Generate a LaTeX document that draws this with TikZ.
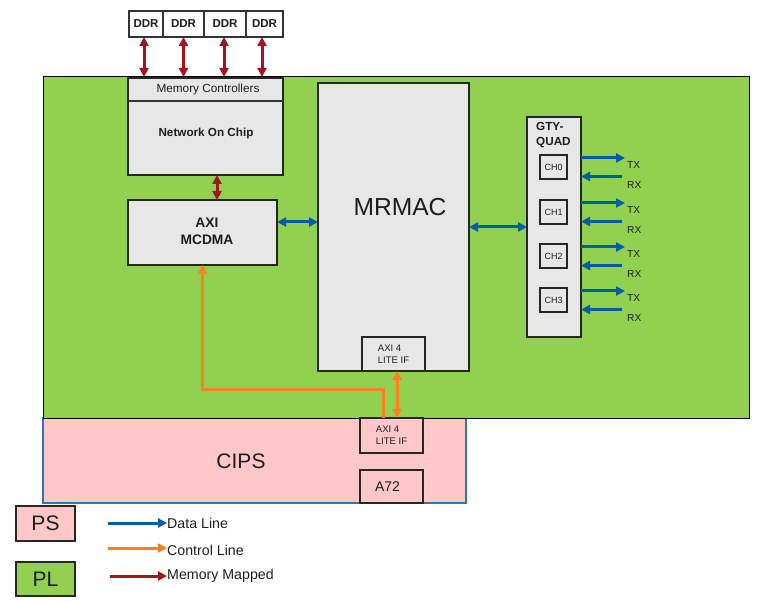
\documentclass[tikz,border=0pt]{standalone}
\usepackage{fontspec}
\setmainfont{Liberation Sans}
\usetikzlibrary{arrows.meta}
\definecolor{plgruen}{RGB}{146,208,80}
\definecolor{psrosa}{RGB}{255,199,199}
\definecolor{psrand}{RGB}{46,117,182}
\definecolor{kastengrau}{RGB}{231,231,231}
\definecolor{datenblau}{RGB}{0,94,166}
\definecolor{steuerorange}{RGB}{250,130,30}
\definecolor{mmrot}{RGB}{165,20,30}
\definecolor{schrift}{RGB}{30,30,30}
\tikzset{
    feld/.style={inner sep=0pt, outer sep=0pt, anchor=north west},
    kasten/.style={feld, draw=black!85, line width=1.5pt, fill=kastengrau},
    ddrkasten/.style={feld, draw=black!80, line width=1.2pt, fill=white, minimum height=26pt,
        font=\fontsize{11.5}{13}\selectfont\bfseries},
    chkasten/.style={feld, draw=black!85, line width=1.6pt, fill=kastengrau,
        minimum width=27pt, minimum height=24pt, font=\fontsize{9}{10}\selectfont},
    klein/.style={font=\fontsize{9.5}{12}\selectfont},
    fett/.style={font=\fontsize{11.7}{15}\selectfont\bfseries},
    gross/.style={font=\fontsize{21}{24}\selectfont},
    legende/.style={font=\fontsize{14.2}{16}\selectfont, anchor=west, inner sep=0pt},
    daten/.style={draw=datenblau, line width=3pt, >={Triangle[length=9pt,width=9pt]}},
    steuer/.style={draw=steuerorange, line width=3pt, >={Triangle[length=9pt,width=9pt]}},
    speicher/.style={draw=mmrot, line width=3pt, >={Triangle[length=9pt,width=9pt]}},
}
\begin{document}
\begin{tikzpicture}[x=1pt,y=-1pt,text=schrift]
        \useasboundingbox (0,0) rectangle (760,601);
        % PS und PL
        \node[feld, draw=psrand, line width=1.3pt, fill=psrosa,
            minimum width=423pt, minimum height=85pt] (cips) at (43,418) {};
        \node[feld, draw=black, line width=1pt, fill=plgruen,
            minimum width=706pt, minimum height=341pt] (pl) at (43,77) {};
        \node[gross] (cipstext) at (241,461) {CIPS};
        % DDR
        \node[ddrkasten, minimum width=34pt] (ddr1) at (129,11) {DDR};
        \node[ddrkasten, minimum width=41pt] (ddr2) at (163,11) {DDR};
        \node[ddrkasten, minimum width=42pt] (ddr3) at (204,11) {DDR};
        \node[ddrkasten, minimum width=37pt] (ddr4) at (246,11) {DDR};
        % Memory Controllers und Network On Chip
        \node[kasten, minimum width=155pt, minimum height=97pt] (noc) at (128,78) {};
        \draw[black!80, line width=1.2pt]
        ([yshift=-23pt]noc.north west) -- ([yshift=-23pt]noc.north east);
        \node[font=\fontsize{11.8}{13}\selectfont] (mctext) at (208,89) {Memory Controllers};
        \node[fett] (noctext) at (206,133) {Network On Chip};
        \foreach \i/\dx in {1/-2,2/0,3/-1,4/-2.5}
            \draw[speicher,<->] ([xshift=\dx pt]ddr\i.south) -- ([xshift=\dx pt]ddr\i.south |- pl.north);
        % AXI MCDMA
        \node[kasten, minimum width=149pt, minimum height=65pt] (dma) at (128,200) {};
        \node[fett, font=\fontsize{13.8}{17}\selectfont\bfseries, align=center] (dmatext) at (207,231) {AXI\\MCDMA};
        \draw[speicher,<->] ([xshift=11.5pt]noc.south) -- ([xshift=11.5pt]noc.south |- dma.north);
        % MRMAC
        \node[kasten, minimum width=151pt, minimum height=288pt] (mrmac) at (318,83) {};
        \node[font=\fontsize{24.6}{28}\selectfont] (mrmactext) at (400,207) {MRMAC};
        \node[kasten, klein, align=left, minimum width=63pt, minimum height=34pt] (plaxi) at (362,337) {AXI 4\\LITE IF};
        \draw[daten,<->] ([yshift=10.5pt]dma.east) -- ([yshift=10.5pt]dma.east -| mrmac.west);
        % GTY-QUAD
        \node[kasten, minimum width=54pt, minimum height=220pt] (gty) at (527,117) {};
        \node[fett, anchor=north west, align=left, inner sep=0pt] (gtytext) at (536,122) {GTY-\\QUAD};
        \draw[daten,<->] (mrmac.east) -- (mrmac.east -| gty.west);
        \foreach \i/\y in {0/155,1/200,2/244,3/288} {
            \node[chkasten] (ch\i) at (540,\y) {CH\i};
            \coordinate (tx\i) at (625,\y+3);
            \coordinate (rx\i) at (622,\y+21.5);
            \draw[daten,->] (tx\i -| gty.east) -- (tx\i);
            \draw[daten,->] (rx\i) -- (rx\i -| gty.east);
            \node[font=\fontsize{10.2}{12}\selectfont, anchor=west, inner sep=0pt] (txtext\i) at (627,\y+10) {TX};
            \node[font=\fontsize{10.2}{12}\selectfont, anchor=west, inner sep=0pt] (rxtext\i) at (627,\y+29.5) {RX};
        }
        % CIPS innen
        \node[feld, draw=black!85, line width=1.5pt, klein, align=left,
            minimum width=63pt, minimum height=35pt] (psaxi) at (360,418) {AXI 4\\LITE IF};
        \node[feld, draw=black!85, line width=1.5pt, font=\fontsize{14}{16}\selectfont,
            minimum width=63pt, minimum height=33pt] (a72) at (360,470) {A72\hspace*{8pt}};
        % Steuerleitungen
        \coordinate (knick) at (202.5,389);
        \draw[steuer,->] ([xshift=-8.5pt]psaxi.north) |- (knick) -- (dma.south);
        \draw[steuer,<->] ([xshift=3.5pt]plaxi.south) -- ([xshift=3.5pt]plaxi.south |- psaxi.north);
        % Legende
        \node[feld, draw=black!85, line width=1.5pt, fill=psrosa, gross,
            minimum width=59pt, minimum height=35pt] (legps) at (16,506) {PS};
        \node[feld, draw=black!85, line width=1.5pt, fill=plgruen, gross,
            minimum width=59pt, minimum height=34pt] (legpl) at (16,562) {PL};
        \coordinate (legdaten) at (108,523);
        \coordinate (legsteuer) at (108,548);
        \coordinate (legspeicher) at (110,576);
        \node[legende] (datentext) at (167,523) {Data Line};
        \node[legende] (steuertext) at (167,550) {Control Line};
        \node[legende] (speichertext) at (167,576) {Memory Mapped};
        \draw[daten,->] (legdaten) -- (legdaten -| datentext.west);
        \draw[steuer,->] (legsteuer) -- (legsteuer -| steuertext.west);
        \draw[speicher,->] (legspeicher) -- (legspeicher -| speichertext.west);
    \end{tikzpicture}
\end{document}
